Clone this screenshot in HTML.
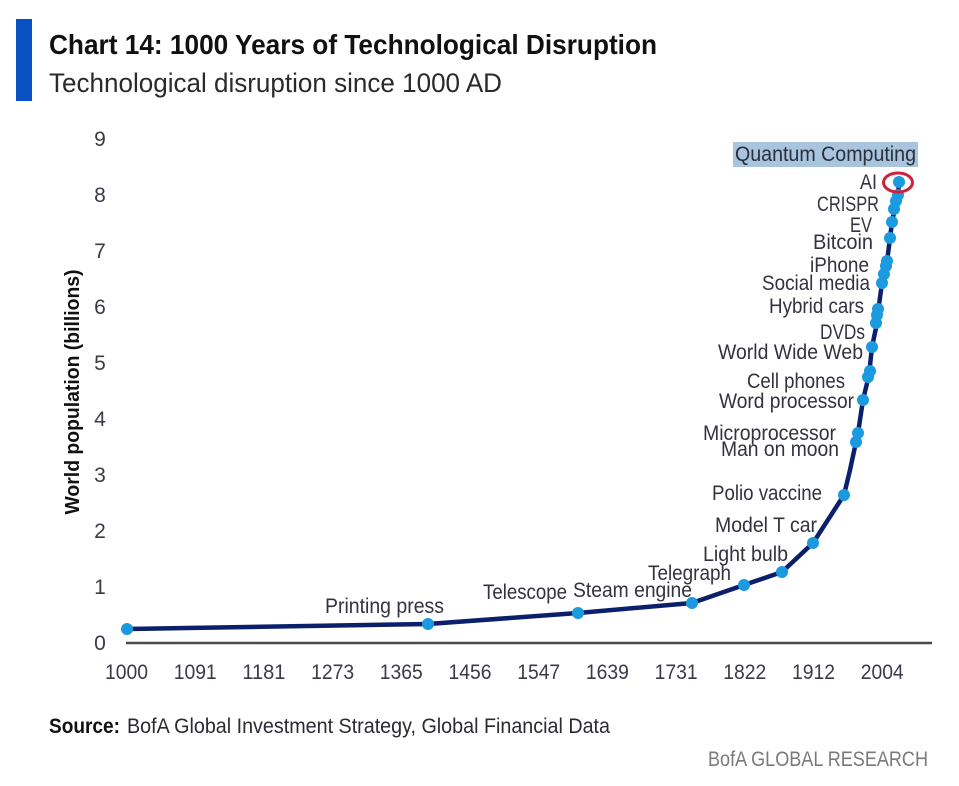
<!DOCTYPE html>
<html>
<head>
<meta charset="utf-8">
<style>
  html,body{margin:0;padding:0;background:#fff;}
  svg{display:block;}
  text{font-family:"Liberation Sans",sans-serif;}
</style>
</head>
<body>
<svg width="959" height="786" viewBox="0 0 959 786" xmlns="http://www.w3.org/2000/svg">
  <rect x="0" y="0" width="959" height="786" fill="#ffffff"/>
  <!-- Header -->
  <rect x="16" y="19" width="16" height="82" fill="#0a52c4"/>
  <text x="49" y="54" font-size="28" font-weight="bold" fill="#111" textLength="608" lengthAdjust="spacingAndGlyphs">Chart 14: 1000 Years of Technological Disruption</text>
  <text x="49" y="92" font-size="27" fill="#2a2a2a" textLength="453" lengthAdjust="spacingAndGlyphs">Technological disruption since 1000 AD</text>

  <!-- Y axis title -->
  <text transform="translate(79,392) rotate(-90)" text-anchor="middle" font-size="20" font-weight="bold" fill="#111" textLength="245" lengthAdjust="spacingAndGlyphs">World population (billions)</text>

  <!-- Y tick labels -->
  <g font-size="21" fill="#3a3a48" text-anchor="middle">
    <text x="100" y="650">0</text>
    <text x="100" y="594">1</text>
    <text x="100" y="538">2</text>
    <text x="100" y="482">3</text>
    <text x="100" y="426">4</text>
    <text x="100" y="370">5</text>
    <text x="100" y="314">6</text>
    <text x="100" y="258">7</text>
    <text x="100" y="202">8</text>
    <text x="100" y="146">9</text>
  </g>

  <!-- X axis -->
  <line x1="126" y1="643" x2="932" y2="643" stroke="#4a4a4a" stroke-width="2.5"/>
  <g font-size="21" fill="#3a3a48" text-anchor="middle">
    <text x="126.5" y="679" textLength="43" lengthAdjust="spacingAndGlyphs">1000</text>
    <text x="195.2" y="679" textLength="43" lengthAdjust="spacingAndGlyphs">1091</text>
    <text x="263.9" y="679" textLength="43" lengthAdjust="spacingAndGlyphs">1181</text>
    <text x="332.6" y="679" textLength="43" lengthAdjust="spacingAndGlyphs">1273</text>
    <text x="401.3" y="679" textLength="43" lengthAdjust="spacingAndGlyphs">1365</text>
    <text x="470.0" y="679" textLength="43" lengthAdjust="spacingAndGlyphs">1456</text>
    <text x="538.7" y="679" textLength="43" lengthAdjust="spacingAndGlyphs">1547</text>
    <text x="607.4" y="679" textLength="43" lengthAdjust="spacingAndGlyphs">1639</text>
    <text x="676.1" y="679" textLength="43" lengthAdjust="spacingAndGlyphs">1731</text>
    <text x="744.8" y="679" textLength="43" lengthAdjust="spacingAndGlyphs">1822</text>
    <text x="813.5" y="679" textLength="43" lengthAdjust="spacingAndGlyphs">1912</text>
    <text x="882.2" y="679" textLength="43" lengthAdjust="spacingAndGlyphs">2004</text>
  </g>

  <!-- Quantum highlight -->
  <rect x="733" y="142" width="185" height="25" fill="#a9c5de"/>

  <!-- Series line -->
  <polyline fill="none" stroke="#0b1f6b" stroke-width="4.5" stroke-linejoin="round" stroke-linecap="round"
    points="127,629 428,624 578,613 692,603 744,585 782,572 813,543 844,495 850,470 856,442 858,433 863,400 869,375 872,347 877,323 878,312 882,283 885,270 887,262 890,238 892,222 895,208 898,195 899,182"/>

  <!-- Dots -->
  <g fill="#1b9ae0">
    <circle cx="127" cy="629" r="6"/>
    <circle cx="428" cy="624" r="6"/>
    <circle cx="578" cy="613" r="6"/>
    <circle cx="692" cy="603" r="6"/>
    <circle cx="744" cy="585" r="6"/>
    <circle cx="782" cy="572" r="6"/>
    <circle cx="813" cy="543" r="6"/>
    <circle cx="844" cy="495" r="6"/>
    <circle cx="856" cy="442" r="6"/>
    <circle cx="858" cy="433" r="6"/>
    <circle cx="863" cy="400" r="6"/>
    <circle cx="868" cy="377" r="6"/>
    <circle cx="870" cy="371" r="6"/>
    <circle cx="872" cy="347" r="6"/>
    <circle cx="876" cy="323" r="6"/>
    <circle cx="877" cy="315" r="6"/>
    <circle cx="878" cy="309" r="6"/>
    <circle cx="882" cy="283" r="6"/>
    <circle cx="884" cy="274" r="6"/>
    <circle cx="886" cy="266" r="6"/>
    <circle cx="887" cy="261" r="6"/>
    <circle cx="890" cy="238" r="6"/>
    <circle cx="892" cy="222" r="6"/>
    <circle cx="894" cy="209" r="6"/>
    <circle cx="896" cy="201" r="6"/>
    <circle cx="898" cy="195" r="6"/>
    <circle cx="899" cy="182" r="6"/>
  </g>
  <!-- AI red circle -->
  <ellipse cx="898" cy="182.5" rx="14.5" ry="9.5" fill="none" stroke="#d0213b" stroke-width="3"/>

  <!-- Labels -->
  <g font-size="21" fill="#333340">
    <text x="735" y="161" textLength="181" lengthAdjust="spacingAndGlyphs" fill="#2a2f3a">Quantum Computing</text>
    <text x="860" y="189" textLength="17" lengthAdjust="spacingAndGlyphs">AI</text>
    <text x="817" y="211" textLength="62" lengthAdjust="spacingAndGlyphs">CRISPR</text>
    <text x="850" y="232" textLength="22" lengthAdjust="spacingAndGlyphs">EV</text>
    <text x="813" y="249" textLength="60" lengthAdjust="spacingAndGlyphs">Bitcoin</text>
    <text x="810" y="272" textLength="59" lengthAdjust="spacingAndGlyphs">iPhone</text>
    <text x="762" y="290" textLength="108" lengthAdjust="spacingAndGlyphs">Social media</text>
    <text x="769" y="313" textLength="95" lengthAdjust="spacingAndGlyphs">Hybrid cars</text>
    <text x="820" y="339" textLength="45" lengthAdjust="spacingAndGlyphs">DVDs</text>
    <text x="718" y="359" textLength="145" lengthAdjust="spacingAndGlyphs">World Wide Web</text>
    <text x="747" y="388" textLength="98" lengthAdjust="spacingAndGlyphs">Cell phones</text>
    <text x="719" y="408" textLength="135" lengthAdjust="spacingAndGlyphs">Word processor</text>
    <text x="703" y="440" textLength="133" lengthAdjust="spacingAndGlyphs">Microprocessor</text>
    <text x="721" y="456" textLength="118" lengthAdjust="spacingAndGlyphs">Man on moon</text>
    <text x="712" y="500" textLength="110" lengthAdjust="spacingAndGlyphs">Polio vaccine</text>
    <text x="715" y="532" textLength="102" lengthAdjust="spacingAndGlyphs">Model T car</text>
    <text x="703" y="561" textLength="85" lengthAdjust="spacingAndGlyphs">Light bulb</text>
    <text x="648" y="580" textLength="83" lengthAdjust="spacingAndGlyphs">Telegraph</text>
    <text x="573" y="597" textLength="119" lengthAdjust="spacingAndGlyphs">Steam engine</text>
    <text x="483" y="599" textLength="84" lengthAdjust="spacingAndGlyphs">Telescope</text>
    <text x="325" y="613" textLength="119" lengthAdjust="spacingAndGlyphs">Printing press</text>
  </g>

  <!-- Source -->
  <text x="49" y="733" font-size="21" font-weight="bold" fill="#111" textLength="71" lengthAdjust="spacingAndGlyphs">Source:</text>
  <text x="127" y="733" font-size="21" fill="#2a2a35" textLength="483" lengthAdjust="spacingAndGlyphs">BofA Global Investment Strategy, Global Financial Data</text>

  <text x="708" y="766" font-size="21" fill="#7a7a7a" textLength="220" lengthAdjust="spacingAndGlyphs">BofA GLOBAL RESEARCH</text>
</svg>
</body>
</html>
